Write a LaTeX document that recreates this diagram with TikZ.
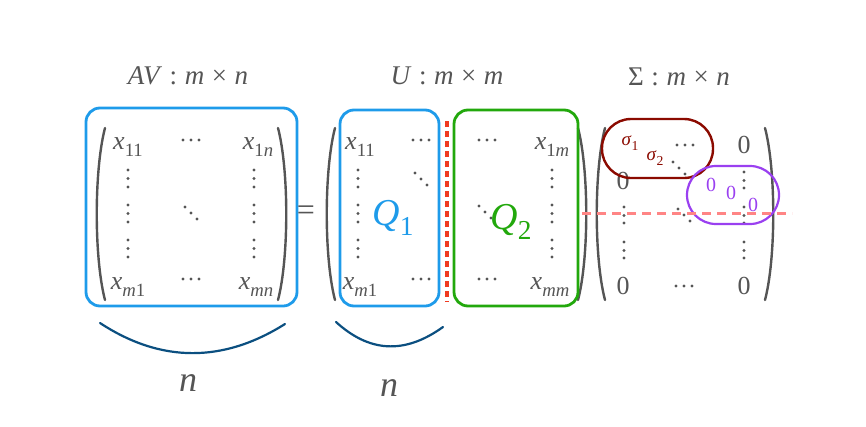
\documentclass[tikz,border=0pt]{standalone}
\usepackage{fontspec}
\setmainfont{Liberation Serif}
\definecolor{txt}{HTML}{555555}
\definecolor{qblue}{HTML}{1E9BEA}
\definecolor{qgreen}{HTML}{22A80C}
\definecolor{sepred}{HTML}{F03A20}
\definecolor{sred}{HTML}{8B0A00}
\definecolor{spurple}{HTML}{9A40F0}
\definecolor{spink}{HTML}{FF8585}
\definecolor{brace}{HTML}{0B4F80}
\tikzset{
  ent/.style={text=txt,inner sep=0pt,font=\fontsize{26}{28}\selectfont},
  ttl/.style={text=txt,inner sep=0pt,font=\fontsize{27}{30}\selectfont},
  paren/.style={draw=txt,line width=2.4pt,line cap=round},
  sketch/.style={line width=2.8pt,rounded corners=14pt},
  bracearc/.style={draw=brace,line width=2.2pt,line cap=round},
}
\newcommand{\lo}[1]{\raisebox{-0.28em}{\scalebox{0.72}{#1}}}
\newcommand{\gp}{\hspace{0.28em}}
\newcommand{\vd}[3]{\fill[txt] (#1,#2) circle (1.6) (#1,#2+8.5) circle (1.6) (#1,#3) circle (1.6);}
\newcommand{\hd}[2]{\fill[txt] (#1-8,#2) circle (1.6) (#1,#2) circle (1.6) (#1+8,#2) circle (1.6);}
\newcommand{\dd}[2]{\fill[txt] (#1-6,#2-6) circle (1.6) (#1,#2) circle (1.6) (#1+6,#2+6) circle (1.6);}
\begin{document}
\begin{tikzpicture}[x=1pt,y=-1pt]
\useasboundingbox (0,0) rectangle (866,426);
% titles
\node[ttl] (t1) at (188,76) {\textit{AV}\gp:\gp\textit{m}\gp×\gp\textit{n}};
\node[ttl] (t2) at (447,76) {\textit{U}\gp:\gp\textit{m}\gp×\gp\textit{m}};
\node[ttl] (t3) at (679,77) {Σ\gp:\gp\textit{m}\gp×\gp\textit{n}};
% ---------- matrix 1
\draw[paren] (105,128) .. controls (94,170) and (94,258) .. (105,300);
\draw[paren] (278,128) .. controls (289,170) and (289,258) .. (278,300);
\node[ent] (a11) at (128,147) {\textit{x}\lo{11}};
\node[ent] (a1n) at (258,147) {\textit{x}\lo{1\textit{n}}};
\node[ent] (am1) at (128,287) {\textit{x}\lo{\textit{m}1}};
\node[ent] (amn) at (256,287) {\textit{x}\lo{\textit{mn}}};
\hd{191}{140} \hd{191}{279}
\vd{128}{170}{187} \vd{128}{205}{222} \vd{128}{240}{257}
\vd{254}{170}{187} \vd{254}{205}{222} \vd{254}{240}{257}
\dd{191}{213}
\draw[qblue,sketch] (86,108) rectangle (297,306);
\node[text=txt,inner sep=0pt,font=\fontsize{32}{34}\selectfont] (eq) at (306,213) {=};
% ---------- matrix 2
\draw[paren] (335,128) .. controls (324,170) and (324,258) .. (335,300);
\draw[paren] (578,128) .. controls (589,170) and (589,258) .. (578,300);
\node[ent] (u11) at (360,147) {\textit{x}\lo{11}};
\node[ent] (u1m) at (552,147) {\textit{x}\lo{1\textit{m}}};
\node[ent] (um1) at (360,287) {\textit{x}\lo{\textit{m}1}};
\node[ent] (umm) at (550,287) {\textit{x}\lo{\textit{mm}}};
\hd{421}{140} \hd{487}{140} \hd{421}{279} \hd{487}{279}
\vd{358}{170}{187} \vd{358}{205}{222} \vd{358}{240}{257}
\vd{552}{170}{187} \vd{552}{205}{222} \vd{552}{240}{257}
\dd{421}{179} \dd{485}{212}
\node[text=qblue,inner sep=0pt,font=\fontsize{38}{40}\selectfont] (q1) at (393,218) {\textit{Q}\lo{1}};
\node[text=qgreen,inner sep=0pt,font=\fontsize{38}{40}\selectfont] (q2) at (511,222) {\textit{Q}\lo{2}};
\draw[qblue,sketch] (340,110) rectangle (439,306);
\draw[qgreen,sketch] (454,110) rectangle (578,306);
\coordinate (s1) at (447,121);
\coordinate (s2) at (447,302);
\draw[sepred,line width=3.5pt,dash pattern=on 6pt off 4pt] (s1) -- (s2);
% ---------- matrix 3
\draw[paren] (605,128) .. controls (594,170) and (594,258) .. (605,300);
\draw[paren] (765,128) .. controls (776,170) and (776,258) .. (765,300);
\node[text=sred,inner sep=0pt,font=\fontsize{19}{20}\selectfont] (sg1) at (630,143) {\textit{σ}\lo{1}};
\node[text=sred,inner sep=0pt,font=\fontsize{19}{20}\selectfont] (sg2) at (655,158) {\textit{σ}\lo{2}};
\hd{685}{145}
\dd{679}{168}
\node[ent] (z1) at (744,145) {0};
\node[ent] (z2) at (623,181) {0};
\node[ent] (z3) at (623,286) {0};
\node[ent] (z4) at (744,286) {0};
\hd{684}{286}
\vd{624}{207}{223} \vd{624}{242}{258}
\vd{744}{172}{188} \vd{744}{207}{223} \vd{744}{242}{258}
\dd{684}{215}
\node[text=spurple,inner sep=0pt,font=\fontsize{20}{22}\selectfont] (p1) at (711,185) {0};
\node[text=spurple,inner sep=0pt,font=\fontsize{20}{22}\selectfont] (p2) at (731,193) {0};
\node[text=spurple,inner sep=0pt,font=\fontsize{20}{22}\selectfont] (p3) at (753,205) {0};
\draw[sred,line width=2.4pt,rounded corners=29pt] (602,119) rectangle (713,178);
\draw[spurple,line width=2.2pt,rounded corners=29pt] (687,166) rectangle (779,224);
\coordinate (h1) at (582,213);
\coordinate (h2) at (792,213);
\draw[spink,line width=3pt,dash pattern=on 9pt off 6pt] (h1) -- (h2);
% ---------- braces
\draw[bracearc] (100,323) .. controls (161,363) and (223,363) .. (285,324);
\draw[bracearc] (336,322) .. controls (369,352) and (404,355) .. (443,327);
\node[text=txt,inner sep=0pt,font=\fontsize{36}{38}\selectfont] (n1) at (188,383) {\textit{n}};
\node[text=txt,inner sep=0pt,font=\fontsize{36}{38}\selectfont] (n2) at (389,388) {\textit{n}};
\end{tikzpicture}
\end{document}
